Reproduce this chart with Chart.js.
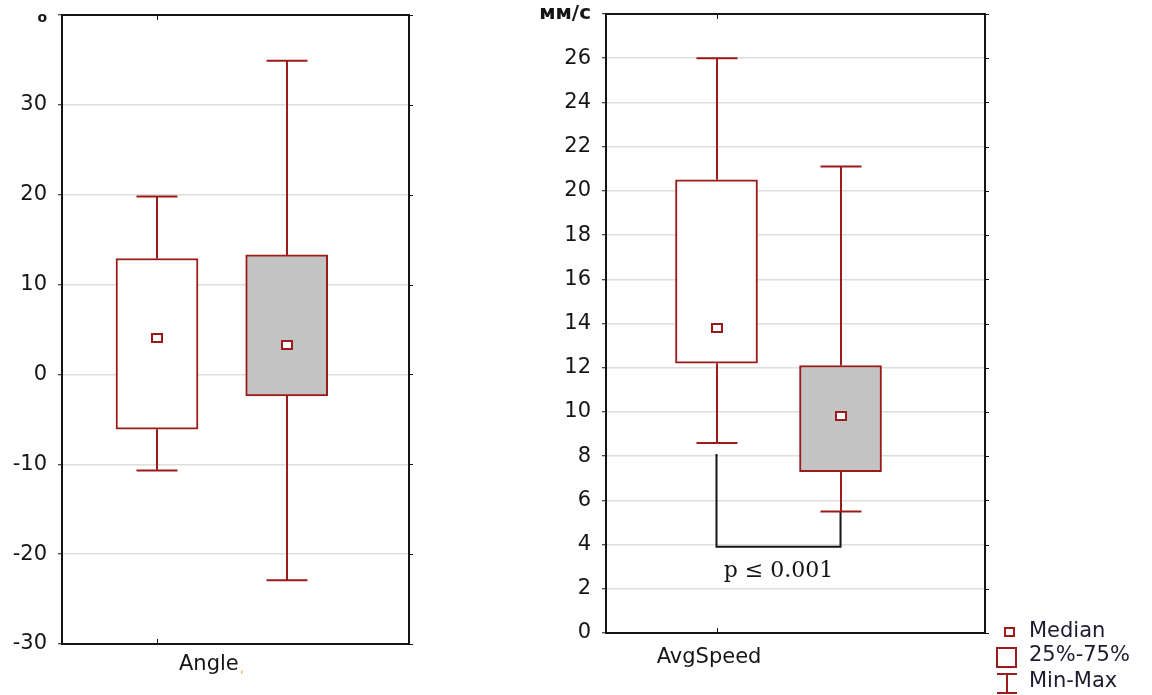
<!DOCTYPE html>
<html>
<head>
<meta charset="utf-8">
<script src="https://cdn.jsdelivr.net/npm/chart.js@4.4.1/dist/chart.umd.min.js"></script>
<style>
  body { margin: 0; background: #fff; }
  #wrap { position: relative; width: 1152px; height: 695px; }
  canvas { position: absolute; top: 0; }
  #angleChart { left: 0; }
  #speedChart { left: 500px; }
</style>
</head>
<body>
<div id="wrap">
  <canvas id="angleChart" width="420" height="695"></canvas>
  <canvas id="speedChart" width="652" height="695"></canvas>
</div>
<script>
// two groups per variable: first box white, second box grey
const groupFill = ['#ffffff', '#c3c3c3'];

const angleMin    = [-10.7, -22.9];
const angleQ1     = [-6.1, -2.4];
const angleMedian = [4.0, 3.3];
const angleQ3     = [12.9, 13.3];
const angleMax    = [19.8, 34.9];

const speedMin    = [8.6, 5.5];
const speedQ1     = [12.2, 7.3];
const speedMedian = [13.8, 9.8];
const speedQ3     = [20.5, 12.1];
const speedMax    = [26.0, 21.1];

// significance bracket between the two speed groups
const bracketFrom = [8.1, 5.5];
const bracketLevel = 3.9;
const pText = 'p \u2264 0.001';

const RED = '#9b1b1b';
const INK = '#151515';
const FONT = '"DejaVu Sans", sans-serif';

const boxExtras = {
  id: 'boxExtras',
  afterDatasetsDraw(chart, args, o) {
    const { ctx, scales: { x, y } } = chart;
    ctx.save();
    ctx.lineCap = 'butt';

    if (o.bracket) {
      const x1 = x.getPixelForValue(1), x2 = x.getPixelForValue(2);
      const yl = y.getPixelForValue(o.bracket.level);
      ctx.strokeStyle = INK;
      ctx.lineWidth = 2;
      ctx.beginPath();
      ctx.moveTo(x1, y.getPixelForValue(o.bracket.from[0]));
      ctx.lineTo(x1, yl);
      ctx.lineTo(x2, yl);
      ctx.lineTo(x2, y.getPixelForValue(o.bracket.from[1]));
      ctx.stroke();
      ctx.fillStyle = INK;
      ctx.font = '22px "DejaVu Serif", serif';
      ctx.textAlign = 'center';
      ctx.textBaseline = 'middle';
      ctx.fillText(o.bracket.text, (x1 + x2) / 2, y.getPixelForValue(o.bracket.textAt));
    }

    // whiskers and median markers
    ctx.strokeStyle = RED;
    ctx.lineWidth = 2;
    o.median.forEach((m, i) => {
      const cx = Math.round(x.getPixelForValue(i + 1));
      const yTop = y.getPixelForValue(o.q3[i]);
      const yBot = y.getPixelForValue(o.q1[i]);
      const yMax = y.getPixelForValue(o.max[i]);
      const yMin = y.getPixelForValue(o.min[i]);
      ctx.beginPath();
      ctx.moveTo(cx, yTop); ctx.lineTo(cx, yMax);
      ctx.moveTo(cx - 20.5, yMax); ctx.lineTo(cx + 20.5, yMax);
      ctx.moveTo(cx, yBot); ctx.lineTo(cx, yMin);
      ctx.moveTo(cx - 20.5, yMin); ctx.lineTo(cx + 20.5, yMin);
      ctx.stroke();
      const ym = Math.round(y.getPixelForValue(m));
      ctx.fillStyle = '#fff';
      ctx.fillRect(cx - 5, ym - 4, 10, 8);
      ctx.strokeRect(cx - 5, ym - 4, 10, 8);
    });
    ctx.restore();
  },
  afterDraw(chart, args, o) {
    const { ctx, chartArea: a, scales: { x, y } } = chart;
    ctx.save();
    // plot frame
    ctx.strokeStyle = INK;
    ctx.lineWidth = 2;
    ctx.strokeRect(a.left, a.top, a.right - a.left, a.bottom - a.top);
    // small ticks outside the right edge
    ctx.lineWidth = 1;
    y.ticks.forEach(t => {
      const py = Math.round(y.getPixelForValue(t.value)) + 0.5;
      ctx.beginPath();
      ctx.moveTo(a.right, py); ctx.lineTo(a.right + 4, py);
      ctx.stroke();
    });
    // category tick on top and bottom edge
    const tx = Math.round(x.getPixelForValue(1)) + 0.5;
    ctx.beginPath();
    ctx.moveTo(tx, a.top); ctx.lineTo(tx, a.top + 5);
    ctx.moveTo(tx, a.bottom); ctx.lineTo(tx, a.bottom - 5);
    ctx.stroke();
    // variable name under the axis
    ctx.font = '21px ' + FONT;
    ctx.textBaseline = 'middle';
    ctx.textAlign = 'center';
    const nx = x.getPixelForValue(o.nameAt), ny = a.bottom + o.nameDy;
    const half = ctx.measureText(o.name).width / 2;
    ctx.fillStyle = INK;
    ctx.fillText(o.name, nx, ny);
    if (o.nameTail) {
      ctx.textAlign = 'left';
      ctx.fillStyle = '#f2b36a';
      ctx.font = '14px ' + FONT;
      ctx.fillText(o.nameTail, nx + half + 1, ny + 3);
    }

    if (o.legend) {
      const lx = o.legend.x, ly = o.legend.y;
      ctx.strokeStyle = RED;
      ctx.lineWidth = 2;
      ctx.fillStyle = '#fff';
      ctx.fillRect(lx + 8, ly - 4, 9, 8);
      ctx.strokeRect(lx + 8, ly - 4, 9, 8);
      ctx.strokeRect(lx, ly + 16, 19, 19);
      ctx.beginPath();
      ctx.moveTo(lx, ly + 42); ctx.lineTo(lx + 20, ly + 42);
      ctx.moveTo(lx + 10, ly + 42); ctx.lineTo(lx + 10, ly + 61);
      ctx.moveTo(lx, ly + 61); ctx.lineTo(lx + 20, ly + 61);
      ctx.stroke();
      ctx.fillStyle = '#1c1c30';
      ctx.font = '21px ' + FONT;
      ctx.textAlign = 'left';
      ctx.textBaseline = 'middle';
      ctx.fillText('Median', lx + 32, ly);
      ctx.fillText('25%-75%', lx + 32, ly + 24);
      ctx.fillText('Min-Max', lx + 32, ly + 50);
    }
    ctx.restore();
  }
};

function boxChart(id, s) {
  return new Chart(document.getElementById(id), {
    type: 'bar',
    data: {
      datasets: [{
        data: s.q1.map((q, i) => ({ x: i + 1, y: [q, s.q3[i]] })),
        backgroundColor: groupFill,
        borderColor: RED,
        borderWidth: 2,
        borderSkipped: false,
        barThickness: 82,
        grouped: false
      }]
    },
    options: {
      responsive: false,
      animation: false,
      layout: { padding: s.padding },
      plugins: {
        legend: { display: false },
        tooltip: { enabled: false },
        boxExtras: s
      },
      scales: {
        x: {
          type: 'linear',
          display: false,
          offset: false,
          min: s.xMin,
          max: s.xMax
        },
        y: {
          min: s.yMin,
          max: s.yMax,
          border: { display: false },
          grid: {
            color: '#dddddd',
            lineWidth: 1.5,
            tickColor: INK,
            tickLength: 4,
            tickWidth: 1
          },
          ticks: {
            stepSize: s.step,
            padding: 11,
            color: INK,
            font: c => (c.tick && c.tick.value === s.yMax)
              ? { family: FONT, size: s.unitSize, weight: 'bold', lineHeight: s.unitLine }
              : { family: FONT, size: 21 },
            callback: v => v === s.yMax ? s.unit : v
          },
          afterFit(scale) {
            scale.width = s.axisWidth;
            scale.paddingTop = 0;
            scale.paddingBottom = 0;
          }
        }
      }
    },
    plugins: [boxExtras]
  });
}

boxChart('angleChart', {
  min: angleMin, q1: angleQ1, median: angleMedian, q3: angleQ3, max: angleMax,
  yMin: -30, yMax: 40, step: 10, unit: ['', 'o'], unitSize: 14, unitLine: 0.55,
  xMin: 0.2675, xMax: 2.943,
  axisWidth: 62,
  padding: { left: 0, right: 11, top: 15, bottom: 51 },
  name: 'Angle', nameTail: ',', nameAt: 1.4, nameDy: 21
});

boxChart('speedChart', {
  min: speedMin, q1: speedQ1, median: speedMedian, q3: speedQ3, max: speedMax,
  yMin: 0, yMax: 28, step: 2, unit: '\u043c\u043c/\u0441', unitSize: 20, unitLine: 1.2,
  xMin: 0.109, xMax: 3.165,
  axisWidth: 106,
  padding: { left: 0, right: 167, top: 14, bottom: 62 },
  name: 'AvgSpeed', nameAt: 0.94, nameDy: 25,
  bracket: { from: bracketFrom, level: bracketLevel, text: pText, textAt: 2.8 },
  legend: { x: 497, y: 632 }
});
</script>
</body>
</html>
